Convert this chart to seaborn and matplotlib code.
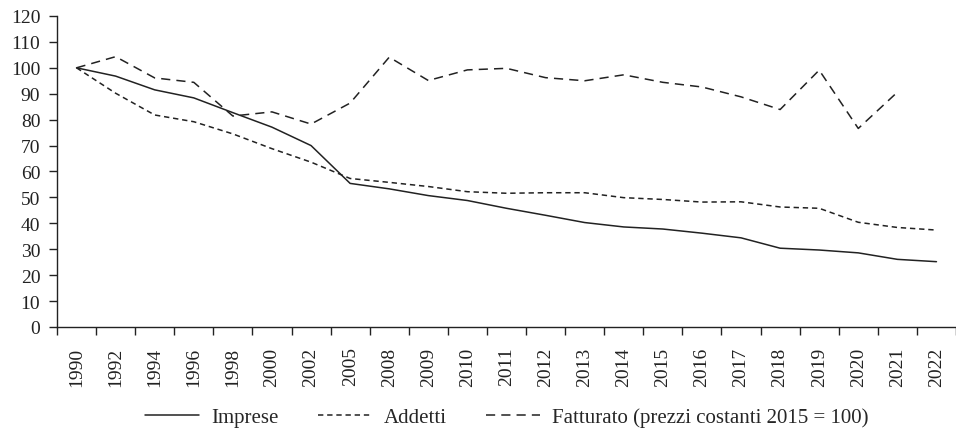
import numpy as np
import pandas as pd
import seaborn as sns
import matplotlib.pyplot as plt
from matplotlib.ticker import FixedLocator

years = ["1990", "1992", "1994", "1996", "1998", "2000", "2002", "2005", "2008",
         "2009", "2010", "2011", "2012", "2013", "2014", "2015", "2016", "2017",
         "2018", "2019", "2020", "2021", "2022"]

imprese = [100, 96.8, 91.5, 88.4, 82.7, 77.1, 70.0, 55.4, 53.3, 50.7, 48.8, 45.8,
           43.1, 40.3, 38.6, 37.8, 36.2, 34.4, 30.4, 29.7, 28.6, 26.1, 25.2]
addetti = [100, 90.2, 81.8, 79.2, 74.5, 68.8, 63.6, 57.3, 55.8, 54.2, 52.2, 51.6,
           51.8, 51.8, 49.9, 49.2, 48.2, 48.3, 46.3, 45.8, 40.4, 38.4, 37.4]
fatturato = [100, 104.3, 96.1, 94.4, 81.4, 83.0, 78.3, 86.4, 104.1, 95.1, 99.2, 99.8,
             96.2, 95.0, 97.3, 94.4, 92.6, 88.8, 83.9, 99.1, 76.6, 90.6, np.nan]

labels = ["Imprese", "Addetti", "Fatturato (prezzi costanti 2015 = 100)"]

sns.set_theme(style="white")
plt.rcParams['font.family'] = ['Liberation Serif', 'DejaVu Serif']

fig = plt.figure(figsize=(9.56, 4.31), dpi=100)
ax = fig.add_axes([0.0596, 0.239, 0.9404, 0.7216])

col = "#222222"
sns.lineplot(x=years, y=imprese, ax=ax, color=col, linewidth=1.1, label=labels[0])
sns.lineplot(x=years, y=addetti, ax=ax, color=col, linewidth=1.1,
             linestyle=(0, (3.5, 2.5)), label=labels[1])
sns.lineplot(x=years, y=fatturato, ax=ax, color=col, linewidth=1.1,
             linestyle=(0, (6, 4)), label=labels[2])

ax.set_xlim(-0.5, len(years) - 0.5)
ax.set_ylim(0, 120)
ax.set_yticks(range(0, 121, 10))
ax.set_xticks(range(len(years)))
ax.set_xticklabels(years, rotation=90)
ax.xaxis.set_minor_locator(FixedLocator(np.arange(-0.5, len(years), 1.0)))
ax.tick_params(axis='x', which='major', length=0, labelsize=14, pad=14, colors=col)
ax.tick_params(axis='x', which='minor', length=5.5, width=1, direction='out', color=col,
               bottom=True)
ax.tick_params(axis='y', length=6, width=1, direction='out', labelsize=14, pad=6,
               colors=col, left=True)
ax.set_xlabel("")
ax.set_ylabel("")
for s in ["top", "right"]:
    ax.spines[s].set_visible(False)
for s in ["left", "bottom"]:
    ax.spines[s].set_color(col)
    ax.spines[s].set_linewidth(1)

handles, lbls = ax.get_legend_handles_labels()
ax.get_legend().remove()
fig.legend(handles, lbls, loc='center', bbox_to_anchor=(0.53, 0.03), ncol=3,
           frameon=False, fontsize=15, handlelength=2.6, columnspacing=1.9,
           handletextpad=0.55, borderpad=0)

fig.savefig("out.png", dpi=100)
